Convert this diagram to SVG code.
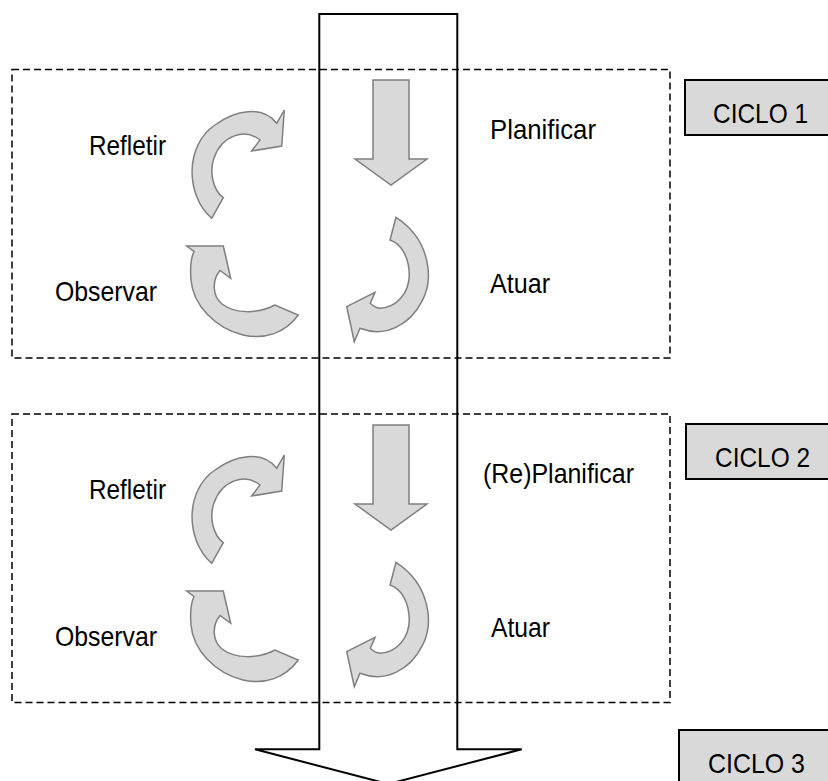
<svg xmlns="http://www.w3.org/2000/svg" xmlns:xlink="http://www.w3.org/1999/xlink" width="828" height="781" viewBox="0 0 828 781">
<style>
  .frame{fill:none;stroke:#000;stroke-width:1.5;stroke-dasharray:7 4}
  .ga{fill:#D9D9D9;stroke:#7F7F7F;stroke-width:1.5;stroke-linejoin:miter}
  .lbl{font-family:"Liberation Sans",Arial,sans-serif;font-size:28px;fill:#000}
  .ciclo{fill:#D9D9D9;stroke:#000;stroke-width:2}
  .big{fill:none;stroke:#000;stroke-width:2;stroke-linejoin:miter}
</style>
<defs>
  <path id="refletirArrow" class="ga" d="M211.7,218.3 C185,195 185,145 215,125 C235,110 262,105 276.7,123.3 L284.3,110 L281.7,146 L251.7,151 L260,140 C245,128 222,135 214,158 C209,172 213,190 223.3,197.7 Z"/>
  <path id="observarArrow" class="ga" d="M186.7,246 L223.3,246 L230.7,278.3 L220,270.4 C212,280 212,296 222,304 C235,314 258,314 275,305 L298.3,315 C285,333 265,340 243,335 C215,328 193,305 191,280 C190,268 191,258 194,251.5 Z"/>
  <path id="planArrow" class="ga" d="M373,80 L409,80 L409,159 L427,159 L391,185 L355,159 L373,159 Z"/>
  <path id="atuarArrow" class="ga" d="M396,217.3 L390,240 C402,244 409,258 409.3,275 C409,293 397,307 380,308.3 C376,308 373,306 370.3,303.3 L375,292.3 L346.7,306.7 L354.3,341.7 L360,328.3 C385,338 410,325 421.7,301.7 C434,280 431,240 396,217.3 Z"/>
</defs>

<g id="cycle1-frame"><rect class="frame" x="12" y="69.5" width="658" height="288.5"/></g>
<g id="cycle2-frame"><rect class="frame" x="12" y="414" width="658" height="288.5"/></g>

<g id="connectors">
  <path id="flow-arrow" class="big" d="M319.3,14 L457.3,14 L457.3,749.3 L521.7,749.3 L388.3,784 L255,749.3 L319.3,749.3 Z"/>
</g>

<g id="c1-refletir"><use xlink:href="#refletirArrow"/><text class="lbl" x="89" y="154.5" textLength="77" lengthAdjust="spacingAndGlyphs">Refletir</text></g>
<g id="c1-observar"><use xlink:href="#observarArrow"/><text class="lbl" x="55" y="300.5" textLength="102" lengthAdjust="spacingAndGlyphs">Observar</text></g>
<g id="c1-planificar"><use xlink:href="#planArrow"/><text class="lbl" x="490" y="139" textLength="106" lengthAdjust="spacingAndGlyphs">Planificar</text></g>
<g id="c1-atuar"><use xlink:href="#atuarArrow"/><text class="lbl" x="490" y="293" textLength="60" lengthAdjust="spacingAndGlyphs">Atuar</text></g>

<g id="c2-refletir"><use xlink:href="#refletirArrow" transform="translate(0,345)"/><text class="lbl" x="89" y="499" textLength="77" lengthAdjust="spacingAndGlyphs">Refletir</text></g>
<g id="c2-observar"><use xlink:href="#observarArrow" transform="translate(0,345)"/><text class="lbl" x="55" y="645.5" textLength="102" lengthAdjust="spacingAndGlyphs">Observar</text></g>
<g id="c2-replanificar"><use xlink:href="#planArrow" transform="translate(0,345)"/><text class="lbl" x="483" y="482.5" textLength="151" lengthAdjust="spacingAndGlyphs">(Re)Planificar</text></g>
<g id="c2-atuar"><use xlink:href="#atuarArrow" transform="translate(0,345)"/><text class="lbl" x="491" y="637" textLength="59" lengthAdjust="spacingAndGlyphs">Atuar</text></g>

<g id="ciclo1"><rect class="ciclo" x="685" y="80" width="150" height="55"/><text class="lbl" x="713" y="123" textLength="95" lengthAdjust="spacingAndGlyphs">CICLO 1</text></g>
<g id="ciclo2"><rect class="ciclo" x="686" y="424" width="150" height="55"/><text class="lbl" x="715" y="467" textLength="95" lengthAdjust="spacingAndGlyphs">CICLO 2</text></g>
<g id="ciclo3"><rect class="ciclo" x="679" y="730" width="160" height="70"/><text class="lbl" x="708" y="773" textLength="97" lengthAdjust="spacingAndGlyphs">CICLO 3</text></g>
</svg>
